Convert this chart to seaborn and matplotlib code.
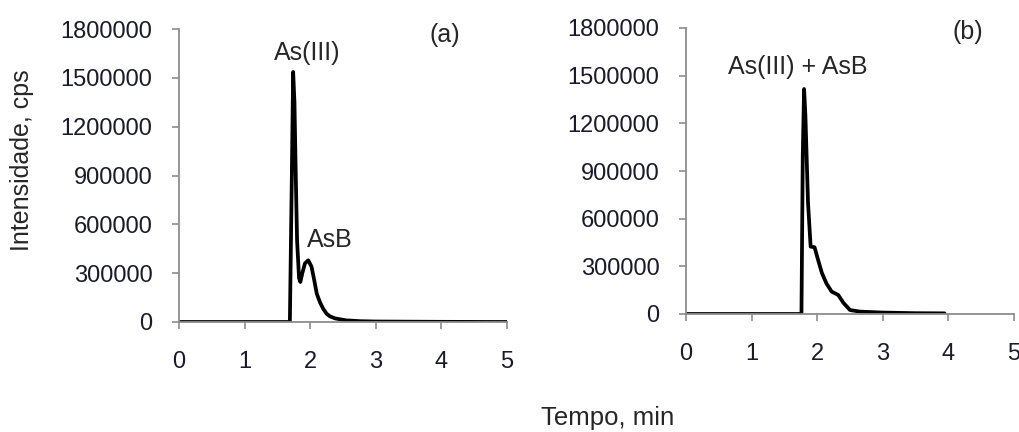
import matplotlib
matplotlib.use("Agg")
import matplotlib.pyplot as plt
import seaborn as sns
import pandas as pd

# Panel (a): As(III) and AsB resolved
tempo_a = [0.0, 1.69, 1.72, 1.74, 1.76, 1.78, 1.80, 1.83, 1.85, 1.88, 1.92, 1.97, 2.02, 2.06,
           2.10, 2.15, 2.20, 2.25, 2.30, 2.38, 2.45, 2.55, 2.76, 3.0, 3.5, 4.0, 5.0]
intens_a = [0, 0, 900000, 1536000, 1350000, 900000, 500000, 270000, 246000, 300000, 360000,
            379000, 340000, 260000, 174000, 120000, 80000, 51000, 35000, 22000, 17000, 10000,
            5000, 3000, 2000, 1000, 0]

# Panel (b): co-eluted As(III) + AsB
tempo_b = [0.0, 1.76, 1.78, 1.80, 1.82, 1.86, 1.90, 1.96, 2.00, 2.07, 2.14, 2.22, 2.32, 2.40,
           2.50, 2.65, 3.0, 3.5, 3.94]
intens_b = [0, 0, 1000000, 1416000, 1250000, 700000, 424000, 420000, 360000, 260000, 193000,
            141000, 120000, 70000, 25000, 15000, 9000, 5000, 4000]

yticks = [0, 300000, 600000, 900000, 1200000, 1500000, 1800000]
xticks = [0, 1, 2, 3, 4, 5]

df_a = pd.DataFrame({"Tempo": tempo_a, "Intensidade": intens_a})
df_b = pd.DataFrame({"Tempo": tempo_b, "Intensidade": intens_b})

sns.set_theme(style="ticks")
plt.rcParams["font.family"] = ["Liberation Sans", "DejaVu Sans"]

W, H = 1019, 432
fig = plt.figure(figsize=(W / 100, H / 100), dpi=100)

def px_axes(left, right, top, bottom):
    return fig.add_axes([left / W, (H - bottom) / H, (right - left) / W, (bottom - top) / H])

ax_a = px_axes(179, 507, 29, 322)
ax_b = px_axes(686, 1014, 28, 314)

spine_col = "#8c8c8c"
tick_font = 17
for ax, df in ((ax_a, df_a), (ax_b, df_b)):
    sns.lineplot(data=df, x="Tempo", y="Intensidade", ax=ax, color="black",
                 linewidth=2.7, estimator=None, sort=False)
    ax.set_xlim(0, 5)
    ax.set_ylim(0, 1800000)
    ax.set_xticks(xticks)
    ax.set_yticks(yticks)
    ax.set_xticklabels([str(t) for t in xticks])
    ax.set_yticklabels([str(t) for t in yticks])
    ax.set_xlabel("")
    ax.set_ylabel("")
    for s in ("top", "right"):
        ax.spines[s].set_visible(False)
    for s in ("left", "bottom"):
        ax.spines[s].set_color(spine_col)
        ax.spines[s].set_linewidth(1.3)
    ax.tick_params(axis="x", direction="out", length=5, width=1.2, color=spine_col,
                   labelsize=tick_font, labelcolor="#1a1a2a", pad=16)
    ax.tick_params(axis="y", direction="out", length=5, width=1.2, color=spine_col,
                   labelsize=tick_font, labelcolor="#1a1a2a", pad=14)
    ax.patch.set_alpha(0)
    for sp in ax.spines.values():
        sp.set_clip_on(False)

ann = 18
ax_a.text(1.95, 1650000, "As(III)", fontsize=ann, ha="center", va="center")
ax_a.text(4.05, 1763000, "(a)", fontsize=ann, ha="center", va="center")
ax_a.text(2.30, 504000, "AsB", fontsize=ann, ha="center", va="center")
ax_b.text(4.30, 1775000, "(b)", fontsize=ann, ha="center", va="center")
ax_b.text(1.71, 1555000, "As(III) + AsB", fontsize=ann, ha="center", va="center")

fig.text(22 / W, 1 - 160 / H, "Intensidade, cps", rotation=90, fontsize=18,
         ha="center", va="center")
fig.text(608 / W, 1 - 418 / H, "Tempo, min", fontsize=18.5, ha="center", va="center")

fig.savefig("out.png", dpi=100, facecolor="white")
